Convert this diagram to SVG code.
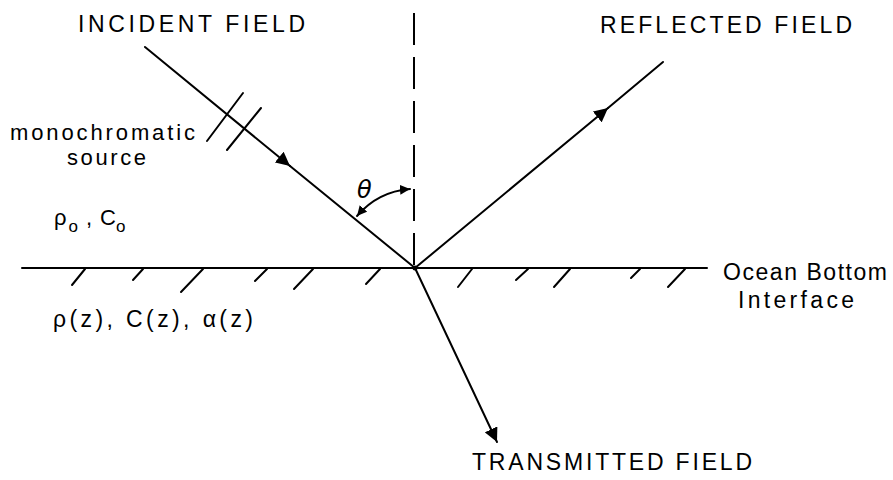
<svg xmlns="http://www.w3.org/2000/svg" width="893" height="480" viewBox="0 0 893 480">
<style>
.ln{stroke:#000;stroke-width:2;fill:none;stroke-linecap:round}
.hatch{stroke:#000;stroke-width:2;fill:none;stroke-linecap:round}
.lbl{font-family:"Liberation Sans",Arial,sans-serif;font-size:23px;fill:#000}
.src{font-family:"Liberation Sans",Arial,sans-serif;font-size:22px;fill:#000}
.sm{font-family:"Liberation Sans",Arial,sans-serif;font-size:22px;fill:#000}
</style>
<defs>
<marker id="ah" viewBox="0 0 10 10" refX="10" refY="5" markerWidth="14" markerHeight="14" markerUnits="userSpaceOnUse" orient="auto-start-reverse">
<path d="M0,0 L10,5 L0,10 z" fill="#000"/>
</marker>
<marker id="ahs" viewBox="0 0 10 10" refX="10" refY="5" markerWidth="10" markerHeight="10" markerUnits="userSpaceOnUse" orient="auto-start-reverse">
<path d="M0,0 L10,5 L0,10 z" fill="#000"/>
</marker>
</defs>
<rect width="893" height="480" fill="#fff"/>

<g id="interface">
<line class="ln" x1="22" y1="268" x2="707" y2="268"/>
<g class="hatch">
<line x1="85" y1="269" x2="72" y2="285"/>
<line x1="143" y1="269" x2="133" y2="280"/>
<line x1="203" y1="269" x2="181" y2="292"/>
<line x1="267" y1="269" x2="255" y2="281"/>
<line x1="313" y1="269" x2="294" y2="289"/>
<line x1="380" y1="269" x2="366" y2="284"/>
<line x1="472" y1="269" x2="458" y2="287"/>
<line x1="528" y1="269" x2="516" y2="280"/>
<line x1="570" y1="269" x2="554" y2="287"/>
<line x1="640" y1="269" x2="631" y2="278"/>
<line x1="685" y1="269" x2="668" y2="287"/>
</g>
</g>

<g id="normal">
<line class="ln" x1="414" y1="13" x2="414" y2="268" stroke-dasharray="32 12" style="stroke-linecap:butt"/>
</g>

<g id="connectors">
<line class="ln" x1="145" y1="47" x2="290" y2="166" marker-end="url(#ah)"/>
<line class="ln" x1="290" y1="166" x2="415" y2="268"/>
<line class="ln" x1="415" y1="268" x2="608" y2="108" marker-end="url(#ah)"/>
<line class="ln" x1="608" y1="108" x2="663" y2="62"/>
<line class="ln" x1="415" y1="268" x2="497" y2="442" marker-end="url(#ah)"/>
<line class="ln" x1="243" y1="93" x2="207" y2="141"/>
<line class="ln" x1="261" y1="108" x2="227" y2="150"/>
<path class="ln" d="M357,216 A78,78 0 0 1 410,189" marker-start="url(#ahs)" marker-end="url(#ahs)"/>
<circle cx="415" cy="268" r="2.5" fill="#000"/>
</g>

<g id="incident-label"><text class="lbl" x="78" y="32" textLength="227" lengthAdjust="spacing">INCIDENT  FIELD</text></g>
<g id="reflected-label"><text class="lbl" x="600" y="33" textLength="252" lengthAdjust="spacing">REFLECTED FIELD</text></g>
<g id="source-label">
<text class="src" x="10" y="140" textLength="185" lengthAdjust="spacing">monochromatic</text>
<text class="src" x="67" y="165" textLength="79" lengthAdjust="spacing">source</text>
</g>
<g id="theta-label"><text x="357" y="198" style="font-family:'DejaVu Sans',sans-serif;font-size:24px;font-style:italic">θ</text></g>
<g id="upper-medium">
<text class="sm" x="54" y="225">ρ<tspan font-size="17" dy="7" dx="2">o</tspan><tspan dy="-7" dx="8">,</tspan><tspan dx="8">C</tspan><tspan font-size="17" dy="7">o</tspan></text>
</g>
<g id="lower-medium"><text class="lbl" x="53" y="327" textLength="200" lengthAdjust="spacing">ρ(z), C(z), α(z)</text></g>
<g id="interface-label">
<text class="lbl" x="723" y="280" textLength="164" lengthAdjust="spacing">Ocean Bottom</text>
<text class="lbl" x="738" y="308" textLength="116" lengthAdjust="spacing">Interface</text>
</g>
<g id="transmitted-label"><text class="lbl" x="472" y="470" textLength="280" lengthAdjust="spacing">TRANSMITTED FIELD</text></g>
</svg>
